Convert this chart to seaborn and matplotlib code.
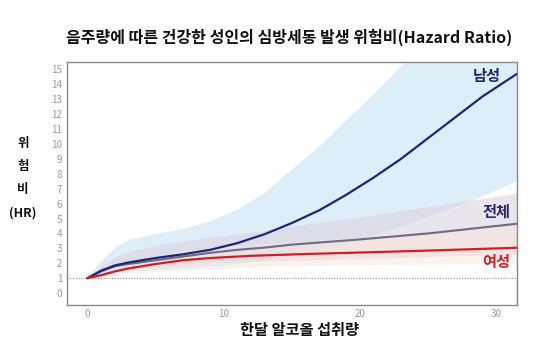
import pandas as pd
import matplotlib
matplotlib.use('Agg')
import matplotlib.pyplot as plt
import seaborn as sns

# valori (HR per consumo mensile di alcol)
male_x = [0, 1, 2, 3, 5, 7, 9, 11, 13, 15, 17, 19, 21, 23, 25, 27, 29, 31.5]
male_hr = [1, 1.5, 1.85, 2.05, 2.35, 2.6, 2.9, 3.35, 3.95, 4.7, 5.55, 6.6, 7.75, 9.0, 10.4, 11.8, 13.2, 14.7]
male_lo = [1, 1.2, 1.35, 1.45, 1.55, 1.65, 1.75, 1.95, 2.2, 2.5, 2.85, 3.3, 3.85, 4.45, 5.1, 5.8, 6.5, 7.5]
male_hi = [1, 2.1, 3.0, 3.55, 3.95, 4.3, 4.8, 5.6, 6.7, 8.3, 9.8, 11.6, 13.3, 15.2, 17, 19, 21, 25]

total_x = [0, 1, 2, 3, 5, 7, 9, 11, 13, 15, 20, 25, 31.5]
total_hr = [1, 1.45, 1.8, 1.95, 2.2, 2.45, 2.7, 2.9, 3.05, 3.25, 3.6, 4.0, 4.65]
total_lo = [1, 1.3, 1.5, 1.6, 1.8, 1.95, 2.05, 2.1, 2.15, 2.2, 2.3, 2.45, 2.6]
total_hi = [1, 1.8, 2.4, 2.8, 3.2, 3.5, 3.75, 3.95, 4.2, 4.5, 5.1, 5.8, 6.7]

female_x = [0, 1, 2, 3, 5, 7, 9, 12, 16, 20, 25, 31.5]
female_hr = [1, 1.2, 1.45, 1.65, 1.95, 2.2, 2.35, 2.5, 2.62, 2.72, 2.85, 3.04]
female_lo = [1, 1.1, 1.2, 1.3, 1.45, 1.55, 1.65, 1.75, 1.85, 1.9, 1.95, 2.0]
female_hi = [1, 1.4, 1.7, 2.0, 2.45, 2.8, 3.0, 3.25, 3.5, 3.75, 4.1, 4.6]

x_ticks = [0, 10, 20, 30]
y_ticks = list(range(0, 16))

df_m = pd.DataFrame({'x': male_x, 'hr': male_hr})
df_t = pd.DataFrame({'x': total_x, 'hr': total_hr})
df_f = pd.DataFrame({'x': female_x, 'hr': female_hr})

sns.set_style('white')
plt.rcParams['font.family'] = ['Noto Sans CJK KR', 'DejaVu Sans']

fig = plt.figure(figsize=(5.6, 3.52), dpi=100)
ax = fig.add_axes([0.1196, 0.1335, 0.8034, 0.6905])

# bande di confidenza
ax.fill_between(male_x, male_lo, male_hi, color='#d8ebf8', alpha=0.85, lw=0, zorder=1)
ax.fill_between(total_x, total_lo, total_hi, color='#ddd3e0', alpha=0.6, lw=0, zorder=2)
ax.fill_between(female_x, female_lo, female_hi, color='#f9e4dc', alpha=0.5, lw=0, zorder=2)

ax.axhline(1, color='#8a8a8a', lw=0.8, ls=(0, (1, 1.5)), zorder=3)

sns.lineplot(data=df_m, x='x', y='hr', ax=ax, color='#1c2677', lw=1.6, zorder=5)
sns.lineplot(data=df_t, x='x', y='hr', ax=ax, color='#6c6c80', lw=1.5, zorder=4)
sns.lineplot(data=df_f, x='x', y='hr', ax=ax, color='#cc1f26', lw=1.6, zorder=6)

ax.text(30.3, 14.55, '남성', color='#1c2466', fontsize=11, fontweight='bold', ha='right', va='center')
ax.text(31.0, 5.45, '전체', color='#262b66', fontsize=11, fontweight='bold', ha='right', va='center')
ax.text(31.0, 2.1, '여성', color='#d41c24', fontsize=11, fontweight='bold', ha='right', va='center')

ax.set_xlim(-1.5, 31.5)
ax.set_ylim(-0.8, 15.5)
ax.set_xticks(x_ticks)
ax.set_yticks(y_ticks)
ax.tick_params(axis='both', labelsize=7, colors='#999999', length=2, width=0.6, pad=1.5)
ax.tick_params(axis='x', length=0, pad=3)
for s in ax.spines.values():
    s.set_color('#888888')
    s.set_linewidth(1.0)

ax.set_xlabel('')
ax.set_ylabel('')
fig.text(0.516, 0.895, '음주량에 따른 건강한 성인의 심방세동 발생 위험비(Hazard Ratio)',
         ha='center', va='center', fontsize=11.5, fontweight='bold', color='#111111')
fig.text(0.535, 0.062, '한달 알코올 섭취량', ha='center', va='center',
         fontsize=11, fontweight='bold', color='#111111')
for txt, yy in [('위', 143), ('험', 167), ('비', 190), ('(HR)', 213)]:
    fig.text(0.041, 1 - yy / 352, txt, ha='center', va='center',
             fontsize=9, fontweight='bold', color='#111111')

fig.savefig('out.png', dpi=100)
